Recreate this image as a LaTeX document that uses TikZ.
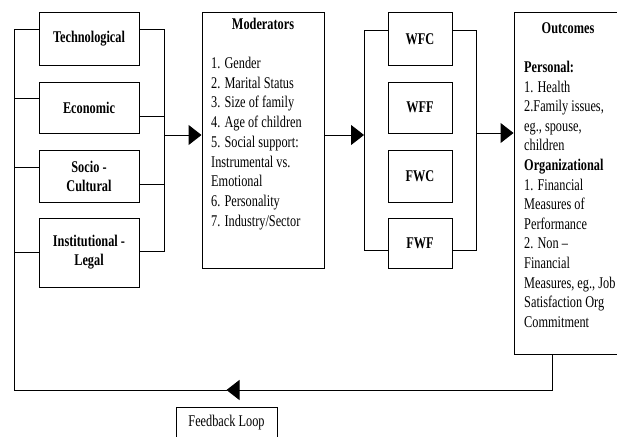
\documentclass[tikz,border=0pt]{standalone}
\usepackage{graphicx}
\usepackage{fontspec}
\setmainfont{Liberation Serif}
\usetikzlibrary{arrows.meta}
\newcommand{\vs}[1]{\scalebox{1}[1.33]{#1}}
\begin{document}
\begin{tikzpicture}[x=1pt,y=-1pt,
  box/.style={draw, line width=1pt, inner sep=0pt},
  lbl/.style={font=\fontsize{12.3}{19}\selectfont\bfseries, align=center},
  ln/.style={line width=1pt},
  arr/.style={line width=1pt, -{Triangle[length=13pt,width=20pt]}},
  txt/.style={font=\fontsize{12.3}{15}\selectfont, anchor=base west, inner sep=0pt},
  ttl/.style={font=\fontsize{12.3}{15}\selectfont\bfseries, inner sep=0pt}]
\useasboundingbox (0,0) rectangle (617,436);

% left group
\node[box, lbl, minimum width=100pt, minimum height=52pt] (tech) at (89,39) {\vs{Technological}};
\node[box, lbl, minimum width=100pt, minimum height=51pt] (econ) at (89,107.5) {\vs{Economic}};
\node[box, lbl, minimum width=100pt, minimum height=52pt] (soc) at (89,176) {\vs{Socio -}\\\vs{Cultural}};
\node[box, lbl, minimum width=100pt, minimum height=69pt] (inst) at (89,252.5) {\vs{Institutional -}\\\vs{Legal}};

% moderators
\node[box, minimum width=122pt, minimum height=255pt] (mod) at (263,140.5) {};
\node[ttl] (modt) at (263,24) {\vs{Moderators}};
\foreach \t [count=\i] in {1. Gender, 2. Marital Status, 3. Size of family, 4. Age of children, 5. Social support:, Instrumental vs., Emotional, 6. Personality, 7. Industry/Sector}
  \node[txt] (m\i) at (211,{68.5+19.7*(\i-1)}) {\vs{\t}};

% conflict group
\node[box, lbl, minimum width=64pt, minimum height=52pt] (wfc) at (420,39) {\vs{WFC}};
\node[box, lbl, minimum width=64pt, minimum height=51pt] (wff) at (420,107.5) {\vs{WFF}};
\node[box, lbl, minimum width=64pt, minimum height=52pt] (fwc) at (420,176) {\vs{FWC}};
\node[box, lbl, minimum width=64pt, minimum height=50pt] (fwf) at (420,243) {\vs{FWF}};

% outcomes
\node[box, minimum width=108pt, minimum height=341pt] (outc) at (568,183.5) {};
\node[ttl] (outt) at (568,28) {\vs{Outcomes}};
\foreach \t [count=\i] in {{\textbf{Personal:}}, {1. Health}, {2.Family issues,}, {eg., spouse,}, {children}, {\textbf{Organizational}}, {1. Financial}, {Measures of}, {Performance}, {2. Non –}, {Financial}, {Measures, eg., Job}, {Satisfaction Org}, {Commitment}}
  \node[txt] (o\i) at (524,{72.5+19.6*(\i-1)}) {\vs{\t}};

% feedback
\node[box, font=\fontsize{12.3}{15}\selectfont, minimum width=101pt, minimum height=32pt] (fb) at (226.5,423) {\vs{Feedback Loop}};

% left bracket
\coordinate (lt) at (14,30);
\coordinate (lb) at (14,390);
\draw[ln] ([yshift=9pt]tech.west) -- (lt) -- (lb);
\draw[ln] ([yshift=9.5pt]econ.west) -| (lt);
\draw[ln] ([yshift=9pt]soc.west) -| (lt);
\draw[ln] (inst.west) -| (lt);

% right bracket of left group
\coordinate (rt) at (164,30);
\coordinate (rb) at (164,251);
\draw[ln] ([yshift=9pt]tech.east) -- (rt) -- (rb) -- ([yshift=1.5pt]inst.east);
\draw[ln] ([yshift=-8.5pt]econ.east) -| (rt);
\draw[ln] ([yshift=-8pt]soc.east) -| (rt);
\coordinate (ja) at (164,135);
\draw[arr] (ja) -- (ja -| mod.west);

% to conflict group
\coordinate (jb) at (364,135);
\draw[arr] (jb -| mod.east) -- (jb);
\coordinate (wt) at (364,31);
\coordinate (wb) at (364,250);
\draw[ln] ([yshift=8pt]wfc.west) -- (wt) -- (wb) -- ([yshift=-7pt]fwf.west);
\coordinate (vt) at (476,31);
\coordinate (vb) at (476,250);
\draw[ln] ([yshift=8pt]wfc.east) -- (vt) -- (vb) -- ([yshift=-7pt]fwf.east);
\coordinate (jc) at (476,133);
\draw[arr] (jc) -- (jc -| outc.west);

% feedback loop
\coordinate (fc) at ([xshift=-16pt]outc.south);
\coordinate (fa) at (fb.north |- lb);
\draw[arr] (fc) |- (fa);
\draw[ln] (fa) -- (lb);
\end{tikzpicture}
\end{document}
